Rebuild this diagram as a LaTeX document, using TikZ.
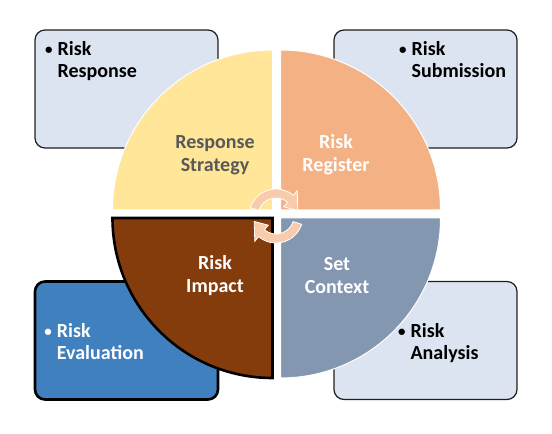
\documentclass[tikz,border=0pt]{standalone}
\usepackage{fontspec}
\setmainfont{Carlito}
\definecolor{boxfill}{HTML}{DCE3F1}
\definecolor{boxline}{HTML}{1F1F1F}
\definecolor{evalfill}{HTML}{4080BF}
\definecolor{quadyellow}{HTML}{FFE699}
\definecolor{quadpeach}{HTML}{F4B183}
\definecolor{quadbrown}{HTML}{843C0C}
\definecolor{quadslate}{HTML}{8497B0}
\definecolor{txtgrey}{HTML}{595959}
\definecolor{cyclepink}{HTML}{F8CBAD}
\newcommand{\bulletmark}{\llap{\raisebox{1pt}{\fontsize{15}{15}\selectfont •}\hspace{5pt}}}

\begin{document}
\begin{tikzpicture}[x=1pt,y=1pt,
  box/.style={draw=boxline, line width=1.2pt, fill=boxfill, rounded corners=10pt,
    minimum width=183pt, minimum height=118pt, inner sep=0pt},
  boxtext/.style={anchor=north west, inner sep=0pt, align=left,
    font=\fontsize{20}{22}\selectfont\bfseries},
  quadtext/.style={align=center, text=white, inner sep=0pt,
    font=\fontsize{20}{23}\selectfont\bfseries},
  cyclearrow/.style={fill=cyclepink, draw=white, line width=0.8pt}]
\def\rad{160pt}
\useasboundingbox (0,0) rectangle (552,434);

% Boxes
\node[box] (box-tl) at (126.5,345) {};
\node[box] (box-tr) at (425.5,345) {};
\node[box, fill=evalfill, draw=black, line width=2.6pt] (box-bl) at (126.5,93.5) {};
\node[box] (box-br) at (425.5,93.5) {};

\node[boxtext] (txt-tl) at ([xshift=23pt,yshift=-12pt]box-tl.north west) {\bulletmark Risk\\Response};
\node[boxtext] (txt-tr) at ([xshift=78pt,yshift=-12pt]box-tr.north west) {\bulletmark Risk\\Submission};
\node[boxtext, text=white] (txt-bl) at ([xshift=23pt,yshift=-43pt]box-bl.north west) {\bulletmark Risk\\Evaluation};
\node[boxtext] (txt-br) at ([xshift=77pt,yshift=-42pt]box-br.north west) {\bulletmark Risk\\Analysis};

% Quadrants
\filldraw[fill=quadyellow, draw=white, line width=1pt] (272.5,224) -- ++(0,\rad) arc[start angle=90, end angle=180, radius=\rad] -- cycle;
\filldraw[fill=quadpeach, draw=white, line width=1pt] (280.5,224) -- ++(\rad,0) arc[start angle=0, end angle=90, radius=\rad] -- cycle;
\filldraw[fill=quadbrown, draw=black, line width=2.6pt] (272.5,216) -- ++(-\rad,0) arc[start angle=180, end angle=270, radius=\rad] -- cycle;
\filldraw[fill=quadslate, draw=white, line width=1pt] (280.5,216) -- ++(0,-\rad) arc[start angle=270, end angle=360, radius=\rad] -- cycle;

\node[quadtext, text=txtgrey] (lbl-tl) at (215,279) {Response\\Strategy};
\node[quadtext] (lbl-tr) at (336,279) {Risk\\Register};
\node[quadtext] (lbl-bl) at (215,158.5) {Risk\\Impact};
\node[quadtext] (lbl-br) at (337,158.5) {Set\\Context};

% Cycle arrows
\begin{scope}[shift={(276,218)}]
\filldraw[cyclearrow] (162:27) arc[start angle=162, end angle=50, radius=27pt] -- (50:33) -- (14:22.5) -- (50:12) -- (50:18) arc[start angle=50, end angle=162, radius=18pt] -- cycle;
\filldraw[cyclearrow] (-18:27) arc[start angle=-18, end angle=-130, radius=27pt] -- (-130:33) -- (-166:22.5) -- (-130:12) -- (-130:18) arc[start angle=-130, end angle=-18, radius=18pt] -- cycle;
\end{scope}

\end{tikzpicture}
\end{document}
